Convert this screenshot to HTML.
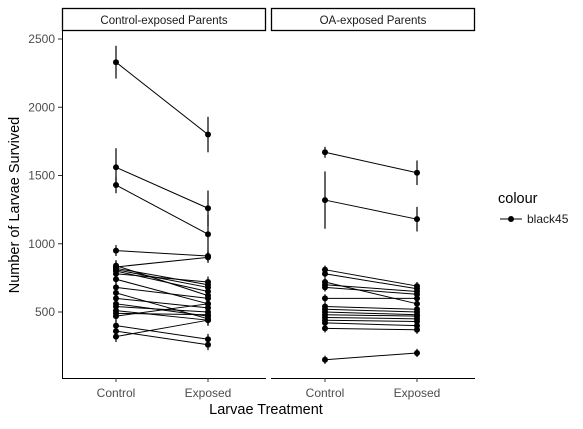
<!DOCTYPE html>
<html><head><meta charset="utf-8"><style>body{margin:0;background:#fff}svg{font-family:"Liberation Sans",sans-serif}</style></head>
<body>
<svg id="c" width="583" height="424" xmlns="http://www.w3.org/2000/svg"></svg>
<script>
const categories=["Control","Exposed"];
const panels=["Control-exposed Parents","OA-exposed Parents"];
const yTicks=[500,1000,1500,2000,2500];
const p1Control=[2330,1560,1430,950,840,830,820,810,800,780,740,680,640,600,560,540,510,490,470,400,360,320];
const p1Exposed=[1800,1260,1070,910,620,900,700,680,650,720,560,600,450,530,470,500,440,480,560,300,260,440];
const p1Err=[120,140,60,40,40,40,40,40,40,40,40,40,40,40,40,40,40,40,40,40,40,40];
const p1ErrE=[130,130,140,40,40,40,40,40,40,40,40,40,40,40,40,40,40,40,40,40,40,40];
const p2Control=[1670,1320,810,780,720,700,680,600,540,520,500,480,460,440,420,380,150];
const p2Exposed=[1520,1180,690,670,560,650,630,600,520,500,480,470,450,430,400,370,200];
const p2Err=[40,210,30,30,30,30,30,30,30,30,30,30,30,30,30,30,30];
const p2ErrE=[90,90,30,30,30,30,30,30,30,30,30,30,30,30,30,30,30];
const NS="http://www.w3.org/2000/svg",svg=document.getElementById("c");
function el(t,a,p){const e=document.createElementNS(NS,t);for(const k in a)e.setAttribute(k,a[k]);(p||svg).appendChild(e);return e;}
const y=v=>312-(v-500)*0.1365;
const px=[[62,266,116,208],[271,475,325,417]];
const data=[[p1Control,p1Exposed,p1Err,p1ErrE],[p2Control,p2Exposed,p2Err,p2ErrE]];
px.forEach((p,i)=>{
 const g=el("g",{});
 const s=el("rect",{x:p[0]+0.5,y:8.5,width:p[1]-p[0]-1,height:22,fill:"#fff",stroke:"#000","stroke-width":1.3},g);
 
 const st=el("text",{x:(p[0]+p[1])/2,y:24,"text-anchor":"middle","font-size":11.5,fill:"#1a1a1a"},g);st.textContent=panels[i];
 
 el("line",{x1:p[0],x2:p[1],y1:378.5,y2:378.5,stroke:"#000","stroke-width":1},g);
 if(i==0)el("line",{x1:62.5,x2:62.5,y1:30,y2:378,stroke:"#000","stroke-width":1},g);
 const [C,E,ec,ee]=data[i];
 C.forEach((v,j)=>{
  const l=el("line",{x1:p[2],x2:p[3],y1:y(v),y2:y(E[j]),stroke:"#000","stroke-width":1},g);
  
  [[p[2],v,ec[j]],[p[3],E[j],ee[j]]].forEach(([xx,vv,er])=>{
   el("line",{x1:xx,x2:xx,y1:y(vv-er),y2:y(vv+er),stroke:"#000","stroke-width":1.2},g);
   const c=el("circle",{cx:xx,cy:y(vv),r:3,fill:"#000"},g);
   
  });
 });
 categories.forEach((c,k)=>{const xx=p[2+k];el("line",{x1:xx,x2:xx,y1:378,y2:382,stroke:"#333"},g);
  const t=el("text",{x:xx,y:397,"text-anchor":"middle","font-size":12,fill:"#4d4d4d"},g);t.textContent=c;
  });
});
yTicks.forEach(v=>{el("line",{x1:58,x2:62,y1:y(v),y2:y(v),stroke:"#333"});
 const t=el("text",{x:55,y:y(v)+4,"text-anchor":"end","font-size":12,fill:"#4d4d4d"});t.textContent=v;
 });
let t=el("text",{x:266,y:414,"text-anchor":"middle","font-size":14.5});t.textContent="Larvae Treatment";

t=el("text",{x:19,y:205,"text-anchor":"middle","font-size":14.5,transform:"rotate(-90 19 205)"});t.textContent="Number of Larvae Survived";

t=el("text",{x:498,y:203,"font-size":14.5});t.textContent="colour";

const lg=el("g",{});
el("line",{x1:500,x2:522,y1:219,y2:219,stroke:"#000"},lg);el("circle",{cx:511,cy:219,r:3},lg);
t=el("text",{x:527,y:223,"font-size":12,fill:"#1a1a1a"},lg);t.textContent="black45";
</script>
</body></html>
